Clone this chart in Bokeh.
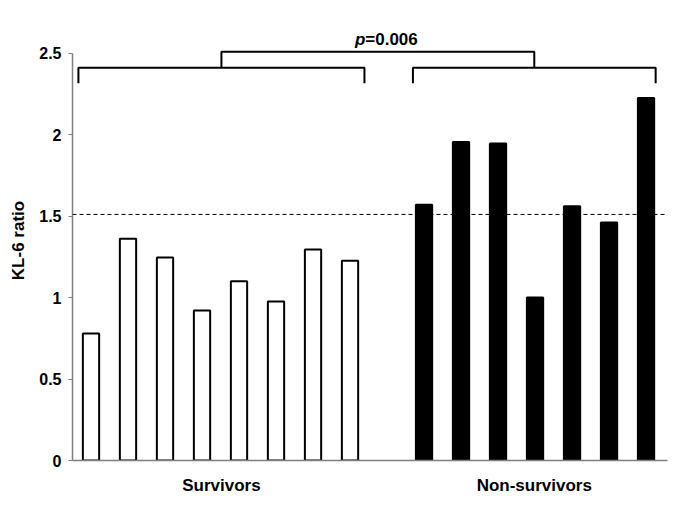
from bokeh.plotting import figure
from bokeh.models import ColumnDataSource, FixedTicker, Span, Range1d
from bokeh.core.properties import value
from bokeh.embed import file_html
from bokeh.resources import INLINE

survivors = [0.78, 1.36, 1.245, 0.92, 1.10, 0.975, 1.295, 1.225]
non_survivors = [1.57, 1.955, 1.945, 1.0, 1.56, 1.46, 2.225]
group_labels = ["Survivors", "Non-survivors"]
threshold = 1.51
p_text = "0.006"
y_ticks = [0, 0.5, 1, 1.5, 2, 2.5]

FONT = "Liberation Sans"

n_s = len(survivors)
n_n = len(non_survivors)
xs_s = [i + 0.5 for i in range(n_s)]
xs_n = [n_s + 1 + i + 0.5 for i in range(n_n)]
x_end = n_s + 1 + n_n + 0.08

p = figure(width=669, height=497, output_backend="svg", toolbar_location=None,
           x_range=Range1d(0, x_end), y_range=Range1d(0, 2.7),
           min_border_left=72, min_border_right=2, min_border_top=20, min_border_bottom=33)
p.outline_line_color = None
p.xgrid.visible = False
p.ygrid.visible = False

src_s = ColumnDataSource(dict(x=xs_s, top=survivors))
src_n = ColumnDataSource(dict(x=xs_n, top=non_survivors))
p.vbar(x="x", top="top", bottom=0, width=0.44, source=src_s,
       fill_color="white", line_color="black", line_width=2)
p.vbar(x="x", top="top", bottom=0, width=0.44, source=src_n,
       fill_color="black", line_color="black", line_width=2)

p.add_layout(Span(location=threshold, dimension="width", line_color="black",
                  line_width=1, line_dash="4 3"))

# brackets
b_y, b_tick = 2.41, 2.315
s_l, s_r = xs_s[0] - 0.34, xs_s[-1] + 0.39
n_l, n_r = xs_n[0] - 0.3, xs_n[-1] + 0.26
s_mid, n_mid = (s_l + s_r) / 2, (n_l + n_r) / 2
top_y = 2.508
p.multi_line(xs=[[s_l, s_l, s_r, s_r], [n_l, n_l, n_r, n_r], [s_mid, s_mid, n_mid, n_mid]],
             ys=[[b_tick, b_y, b_y, b_tick], [b_tick, b_y, b_y, b_tick], [b_y, top_y, top_y, b_y]],
             line_color="black", line_width=2)

mid = (s_mid + n_mid) / 2 - 0.34
p.text(x=[mid], y=[2.585], text=["p"], text_font=value(FONT), text_font_style="bold italic",
       text_font_size="17px", text_align="right", text_baseline="middle", text_color="black")
p.text(x=[mid], y=[2.585], text=["=" + p_text], text_font=value(FONT), text_font_style="bold",
       text_font_size="17px", text_align="left", text_baseline="middle", text_color="black")

# axes
p.yaxis.ticker = FixedTicker(ticks=y_ticks)
p.yaxis.major_label_overrides = {t: ("%g" % t) for t in y_ticks}
p.yaxis.bounds = (0, 2.5)
p.yaxis.axis_label = "KL-6 ratio"
p.yaxis.axis_label_text_font = FONT
p.yaxis.axis_label_text_font_style = "bold"
p.yaxis.axis_label_text_font_size = "17px"
p.yaxis.axis_label_text_color = "black"
p.yaxis.axis_label_standoff = 8
p.yaxis.major_label_text_font = FONT
p.yaxis.major_label_text_font_style = "bold"
p.yaxis.major_label_text_font_size = "16px"
p.yaxis.major_label_text_color = "black"
p.yaxis.major_label_standoff = 7
p.yaxis.major_tick_out = 4
p.yaxis.major_tick_in = 0
p.yaxis.minor_tick_out = 0
p.yaxis.minor_tick_in = 0
p.yaxis.axis_line_color = "#808080"
p.yaxis.major_tick_line_color = "#808080"
p.yaxis.axis_line_width = 1.5

centers = [s_mid, n_mid]
p.xaxis.ticker = FixedTicker(ticks=centers)
p.xaxis.major_label_overrides = {c: l for c, l in zip(centers, group_labels)}
p.xaxis.bounds = (0, x_end)
p.xaxis.major_label_text_font = FONT
p.xaxis.major_label_text_font_style = "bold"
p.xaxis.major_label_text_font_size = "17px"
p.xaxis.major_label_text_color = "black"
p.xaxis.major_label_standoff = 15
p.xaxis.major_tick_out = 0
p.xaxis.major_tick_in = 0
p.xaxis.minor_tick_out = 0
p.xaxis.minor_tick_in = 0
p.xaxis.axis_line_color = "#808080"
p.xaxis.axis_line_width = 1.5

open("out.html", "w").write(file_html(p, INLINE))
